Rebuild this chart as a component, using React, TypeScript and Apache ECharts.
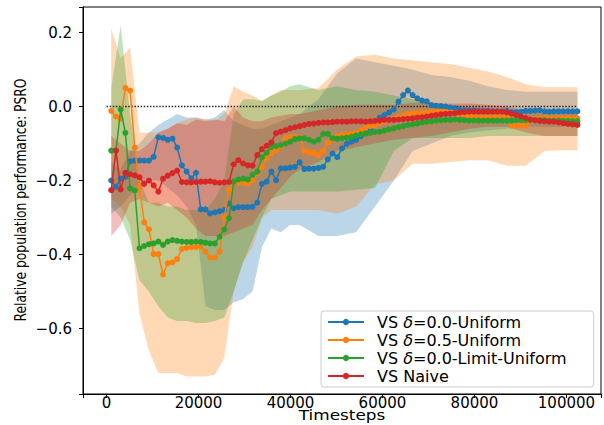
import React, { useEffect, useRef } from "react";
import * as echarts from "echarts";

// Timesteps of the evaluation points
const STEPS = [
  1024, 2048, 3072, 4096, 5120, 6144, 7168, 8192, 9216, 10240,
  11264, 12288, 13312, 14336, 15360, 16384, 17408, 18432, 19456, 20480,
  21504, 22528, 23552, 24576, 25600, 26624, 27648, 28672, 29696, 30720,
  31744, 32768, 33792, 34816, 35840, 36864, 37888, 38912, 39936, 40960,
  41984, 43008, 44032, 45056, 46080, 47104, 48128, 49152, 50176, 51200,
  52224, 53248, 54272, 55296, 56320, 57344, 58368, 59392, 60416, 61440,
  62464, 63488, 64512, 65536, 66560, 67584, 68608, 69632, 70656, 71680,
  72704, 73728, 74752, 75776, 76800, 77824, 78848, 79872, 80896, 81920,
  82944, 83968, 84992, 86016, 87040, 88064, 89088, 90112, 91136, 92160,
  93184, 94208, 95232, 96256, 97280, 98304, 99328, 100352, 101376, 102400,
];

const NAMES = ["VS δ=0.0-Uniform", "VS δ=0.5-Uniform", "VS δ=0.0-Limit-Uniform", "VS Naive"];
const COLORS = ["#1f77b4", "#ff7f0e", "#2ca02c", "#d62728"];
const BAND_COLORS = ["rgba(31,119,180,0.3)", "rgba(255,127,14,0.3)", "rgba(44,160,44,0.3)", "rgba(214,39,40,0.3)"];

const UNIFORM_00 = [
  -0.200, -0.217, -0.195, -0.190, -0.148, -0.146, -0.146, -0.146, -0.146, -0.136,
  -0.083, -0.085, -0.090, -0.087, -0.111, -0.159, -0.176, -0.194, -0.179, -0.278,
  -0.278, -0.289, -0.286, -0.283, -0.280, -0.262, -0.275, -0.272, -0.272, -0.272,
  -0.271, -0.260, -0.209, -0.203, -0.176, -0.199, -0.167, -0.167, -0.165, -0.163,
  -0.151, -0.169, -0.168, -0.168, -0.166, -0.163, -0.143, -0.127, -0.137, -0.113,
  -0.101, -0.095, -0.090, -0.080, -0.072, -0.060, -0.045, -0.030, -0.023, -0.016,
  -0.008, 0.013, 0.031, 0.043, 0.031, 0.022, 0.016, 0.014, 0.004, 0.002,
  0.001, 0.000, -0.003, -0.005, -0.009, -0.010, -0.011, -0.011, -0.012, -0.012,
  -0.012, -0.013, -0.013, -0.013, -0.012, -0.015, -0.015, -0.014, -0.012, -0.012,
  -0.011, -0.010, -0.013, -0.014, -0.013, -0.013, -0.013, -0.013, -0.013, -0.013,
];

const UNIFORM_05 = [
  -0.012, -0.027, -0.033, 0.050, 0.043, -0.111, -0.219, -0.313, -0.332, -0.399,
  -0.399, -0.454, -0.424, -0.421, -0.412, -0.385, -0.382, -0.380, -0.380, -0.379,
  -0.392, -0.408, -0.408, -0.392, -0.300, -0.225, -0.205, -0.205, -0.205, -0.208,
  -0.199, -0.181, -0.163, -0.140, -0.127, -0.118, -0.107, -0.086, -0.083, -0.083,
  -0.083, -0.120, -0.124, -0.124, -0.131, -0.120, -0.098, -0.089, -0.080, -0.077,
  -0.075, -0.073, -0.072, -0.065, -0.058, -0.053, -0.050, -0.044, -0.040, -0.036,
  -0.033, -0.029, -0.025, -0.020, -0.019, -0.018, -0.017, -0.016, -0.015, -0.014,
  -0.014, -0.015, -0.016, -0.018, -0.020, -0.022, -0.025, -0.028, -0.029, -0.029,
  -0.029, -0.029, -0.029, -0.029, -0.029, -0.052, -0.052, -0.052, -0.052, -0.040,
  -0.033, -0.032, -0.032, -0.032, -0.032, -0.032, -0.032, -0.032, -0.032, -0.032,
];

const LIMIT_UNIFORM_00 = [
  -0.119, -0.119, -0.008, -0.071, -0.221, -0.227, -0.383, -0.377, -0.372, -0.370,
  -0.365, -0.374, -0.365, -0.361, -0.363, -0.365, -0.366, -0.366, -0.365, -0.366,
  -0.368, -0.370, -0.370, -0.352, -0.332, -0.302, -0.203, -0.197, -0.195, -0.197,
  -0.185, -0.176, -0.137, -0.125, -0.109, -0.107, -0.104, -0.100, -0.095, -0.088,
  -0.086, -0.086, -0.090, -0.095, -0.090, -0.074, -0.074, -0.086, -0.087, -0.086,
  -0.084, -0.082, -0.078, -0.075, -0.073, -0.071, -0.069, -0.068, -0.065, -0.062,
  -0.059, -0.056, -0.053, -0.050, -0.048, -0.046, -0.043, -0.041, -0.040, -0.038,
  -0.037, -0.036, -0.036, -0.035, -0.036, -0.037, -0.038, -0.038, -0.038, -0.038,
  -0.038, -0.038, -0.038, -0.038, -0.038, -0.038, -0.037, -0.037, -0.037, -0.037,
  -0.037, -0.037, -0.037, -0.038, -0.038, -0.038, -0.039, -0.039, -0.040, -0.040,
];

const NAIVE = [
  -0.226, -0.119, -0.224, -0.179, -0.183, -0.186, -0.191, -0.209, -0.200, -0.213,
  -0.230, -0.195, -0.187, -0.180, -0.173, -0.204, -0.205, -0.205, -0.204, -0.203,
  -0.203, -0.202, -0.205, -0.206, -0.205, -0.204, -0.156, -0.145, -0.154, -0.159,
  -0.160, -0.131, -0.115, -0.106, -0.097, -0.072, -0.068, -0.064, -0.059, -0.056,
  -0.053, -0.050, -0.047, -0.046, -0.044, -0.043, -0.043, -0.042, -0.041, -0.041,
  -0.041, -0.040, -0.040, -0.040, -0.041, -0.040, -0.039, -0.038, -0.036, -0.036,
  -0.036, -0.035, -0.034, -0.033, -0.032, -0.030, -0.029, -0.027, -0.025, -0.023,
  -0.021, -0.020, -0.019, -0.018, -0.016, -0.015, -0.014, -0.014, -0.014, -0.014,
  -0.014, -0.014, -0.014, -0.014, -0.016, -0.019, -0.023, -0.027, -0.031, -0.035,
  -0.037, -0.039, -0.040, -0.041, -0.041, -0.043, -0.045, -0.047, -0.048, -0.050,
];

// Timesteps at which the shaded spread bands are read
const BAND_STEPS = [
  1024, 3072, 5120, 7168, 9216, 11264, 13312, 15360, 17408, 19456,
  21504, 23552, 25600, 27648, 29696, 31744, 33792, 35840, 37888, 39936,
  41984, 46080, 50176, 54272, 58368, 62464, 66560, 70656, 74752, 78848,
  82944, 87040, 91136, 95232, 99328, 102400,
];

const UNIFORM_00_HI = [
  -0.15, -0.17, -0.12, -0.10, -0.07, -0.05, -0.035, -0.02, -0.03, -0.03,
  -0.035, -0.03, -0.01, -0.04, -0.05, -0.06, -0.06, -0.05, -0.04, -0.03,
  -0.02, 0.02, 0.09, 0.13, 0.12, 0.11, 0.10, 0.085, 0.08, 0.07,
  0.055, 0.045, 0.04, 0.04, 0.04, 0.04,
];
const UNIFORM_00_LO = [
  -0.29, -0.27, -0.24, -0.22, -0.20, -0.20, -0.22, -0.24, -0.27, -0.32,
  -0.54, -0.55, -0.55, -0.53, -0.52, -0.50, -0.38, -0.33, -0.34, -0.32,
  -0.32, -0.35, -0.35, -0.34, -0.27, -0.20, -0.12, -0.10, -0.08, -0.07,
  -0.065, -0.06, -0.055, -0.055, -0.055, -0.055,
];
const UNIFORM_05_HI = [
  0.21, 0.13, 0.16, -0.07, -0.07, -0.07, -0.06, -0.045, -0.035, -0.03,
  -0.035, -0.04, -0.02, 0.055, 0.04, 0.03, 0.015, 0.03, 0.045, 0.045,
  0.045, 0.05, 0.10, 0.135, 0.14, 0.13, 0.125, 0.12, 0.115, 0.105,
  0.095, 0.08, 0.06, 0.052, 0.052, 0.052,
];
const UNIFORM_05_LO = [
  -0.25, -0.27, -0.32, -0.56, -0.66, -0.72, -0.72, -0.72, -0.73, -0.73,
  -0.73, -0.725, -0.68, -0.50, -0.42, -0.38, -0.30, -0.28, -0.28, -0.28,
  -0.28, -0.28, -0.29, -0.27, -0.21, -0.20, -0.155, -0.155, -0.15, -0.145,
  -0.145, -0.16, -0.16, -0.12, -0.118, -0.118,
];
const LIMIT_UNIFORM_00_HI = [
  0.05, 0.22, -0.02, -0.20, -0.26, -0.26, -0.27, -0.27, -0.28, -0.28,
  -0.28, -0.25, -0.20, -0.02, 0.02, 0.02, 0.015, 0.03, 0.04, 0.055,
  0.06, 0.045, 0.055, 0.045, 0.04, 0.03, 0.02, 0.01, 0.005, 0.0,
  -0.005, -0.01, -0.01, -0.01, -0.01, -0.01,
];
const LIMIT_UNIFORM_00_LO = [
  -0.27, -0.30, -0.36, -0.47, -0.50, -0.54, -0.57, -0.58, -0.58, -0.585,
  -0.585, -0.58, -0.57, -0.50, -0.42, -0.36, -0.30, -0.25, -0.24, -0.23,
  -0.23, -0.23, -0.23, -0.225, -0.22, -0.12, -0.085, -0.085, -0.085, -0.085,
  -0.08, -0.08, -0.08, -0.08, -0.08, -0.08,
];
const NAIVE_HI = [
  -0.08, -0.10, -0.12, -0.12, -0.10, -0.07, -0.06, -0.045, -0.05, -0.035,
  -0.04, -0.035, -0.04, 0.0, -0.03, -0.04, -0.04, -0.03, -0.025, -0.02,
  -0.02, -0.01, 0.0, 0.005, 0.005, 0.005, 0.01, 0.01, 0.008, 0.008,
  0.005, 0.0, -0.01, -0.01, -0.01, -0.01,
];
const NAIVE_LO = [
  -0.35, -0.32, -0.26, -0.25, -0.26, -0.27, -0.26, -0.28, -0.30, -0.33,
  -0.35, -0.35, -0.35, -0.34, -0.33, -0.32, -0.28, -0.25, -0.22, -0.19,
  -0.17, -0.15, -0.12, -0.11, -0.10, -0.09, -0.085, -0.08, -0.07, -0.06,
  -0.055, -0.055, -0.07, -0.08, -0.08, -0.08,
];

const REFERENCE_LINE_X = [0, 102400];
const REFERENCE_LINE_Y = [0, 0];

const X_TICKS = [0, 20000, 40000, 60000, 80000, 100000];
const Y_TICKS = [-0.6, -0.4, -0.2, 0.0, 0.2];

const MEANS = [UNIFORM_00, UNIFORM_05, LIMIT_UNIFORM_00, NAIVE];
const HIS = [UNIFORM_00_HI, UNIFORM_05_HI, LIMIT_UNIFORM_00_HI, NAIVE_HI];
const LOS = [UNIFORM_00_LO, UNIFORM_05_LO, LIMIT_UNIFORM_00_LO, NAIVE_LO];

const FONT = "'DejaVu Sans', sans-serif";

function isTick(v: number, ticks: number[]) {
  return ticks.some((t) => Math.abs(t - v) < 1e-6 * Math.max(1, Math.abs(t)));
}

export default function App() {
  const ref = useRef<HTMLDivElement>(null);

  useEffect(() => {
    if (!ref.current) return;
    const chart = echarts.init(ref.current, null, { renderer: "svg" });

    const bandSeries = HIS.map((hi, k) => {
      const lo = LOS[k];
      return {
        type: "custom",
        name: NAMES[k] + " spread",
        silent: true,
        z: 1,
        data: BAND_STEPS.map((x, i) => [x, lo[i], hi[i]]),
        encode: { x: 0, y: [1, 2] },
        renderItem: (params: any, api: any) => {
          if (params.dataIndex !== 0) return null;
          const pts: number[][] = [];
          for (let i = 0; i < BAND_STEPS.length; i++) pts.push(api.coord([BAND_STEPS[i], hi[i]]));
          for (let i = BAND_STEPS.length - 1; i >= 0; i--) pts.push(api.coord([BAND_STEPS[i], lo[i]]));
          return { type: "polygon", shape: { points: pts }, style: { fill: BAND_COLORS[k], stroke: "none" } };
        },
      };
    });

    const lineSeries = MEANS.map((vals, k) => ({
      type: "line",
      name: NAMES[k],
      z: 3 + k,
      data: STEPS.map((x, i) => [x, vals[i]]),
      symbol: "circle",
      symbolSize: 6,
      showSymbol: true,
      lineStyle: { color: COLORS[k], width: 1.5 },
      itemStyle: { color: COLORS[k] },
      emphasis: { disabled: true },
    }));

    const zeroLine = {
      type: "line",
      name: "zero",
      z: 2,
      data: REFERENCE_LINE_X.map((x, i) => [x, REFERENCE_LINE_Y[i]]),
      symbol: "none",
      lineStyle: { color: "#222", width: 1.5, type: [1.5, 1.6] },
      silent: true,
    };

    chart.setOption({
      animation: false,
      backgroundColor: "#ffffff",
      grid: {
        left: 83,
        right: 3,
        top: 7,
        bottom: 31,
        show: true,
        borderColor: "#000",
        borderWidth: 1,
        containLabel: false,
        outerBoundsMode: "none",
      },
      xAxis: {
        type: "value",
        min: -5120,
        max: 107520,
        splitNumber: 6,
        splitLine: { show: false },
        axisLine: { show: true, onZero: false, lineStyle: { color: "#000", width: 1 } },
        axisTick: { show: true, length: 4, lineStyle: { color: "#000" } },
        axisLabel: {
          color: "#000",
          fontFamily: FONT,
          fontSize: 15,
          lineHeight: 15,
          margin: 1,
          formatter: (v: number) => (isTick(v, X_TICKS) ? String(Math.round(v)) : ""),
        },
      },
      yAxis: {
        type: "value",
        min: -0.777,
        max: 0.269,
        splitNumber: 5,
        splitLine: { show: false },
        axisLine: { show: true, onZero: false, lineStyle: { color: "#000", width: 1 } },
        axisTick: { show: true, length: 4, lineStyle: { color: "#000" } },
        axisLabel: {
          color: "#000",
          fontFamily: FONT,
          fontSize: 15,
          margin: 11,
          formatter: (v: number) =>
            isTick(v, Y_TICKS) ? (v < -1e-9 ? "\u2212" : "") + Math.abs(v).toFixed(1) : "",
        },
      },
      legend: {
        data: NAMES,
        orient: "vertical",
        left: 321,
        top: 311,
        itemWidth: 36,
        itemHeight: 8,
        itemGap: 2,
        padding: [3, 27, 3, 6],
        backgroundColor: "rgba(255,255,255,0.8)",
        borderColor: "#cccccc",
        borderWidth: 1,
        borderRadius: 3,
        textStyle: {
          color: "#000",
          fontFamily: FONT,
          fontSize: 16,
          lineHeight: 16,
          padding: [0, 0, 0, 8],
          rich: { d: { fontStyle: "italic", fontFamily: FONT, fontSize: 16, color: "#000" } },
        },
        formatter: (name: string) => name.replace("δ", "{d|δ}"),
      },
      graphic: [
        {
          type: "text",
          x: 20,
          y: 200,
          rotation: Math.PI / 2,
          scaleY: 1.3,
          style: {
            text: "Relative population performance: PSRO",
            fontFamily: FONT,
            fontSize: 12.3,
            fill: "#000",
            align: "center",
            verticalAlign: "middle",
          },
        },
        {
          type: "text",
          x: 342,
          y: 416,
          scaleX: 1.25,
          style: {
            text: "Timesteps",
            fontFamily: FONT,
            fontSize: 13.5,
            fill: "#000",
            align: "center",
            verticalAlign: "middle",
          },
        },
      ],
      series: [...bandSeries, zeroLine, ...lineSeries],
    });

    return () => chart.dispose();
  }, []);

  return (
    <div
      ref={ref}
      style={{ position: "fixed", left: 0, top: 0, width: 604, height: 425, background: "#fff" }}
    />
  );
}
